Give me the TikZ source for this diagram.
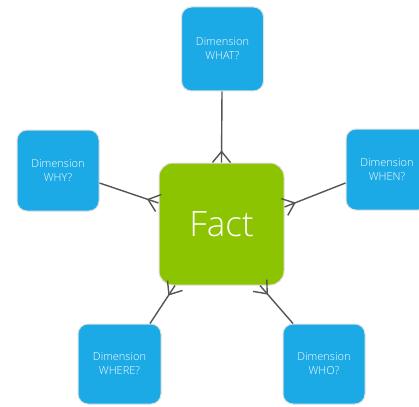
\documentclass[tikz,border=0pt]{standalone}
\usepackage{fontspec}
\setmainfont{Open Sans}
\newfontfamily\lightfont{Open Sans Light}
\usetikzlibrary{calc}
\definecolor{dimblue}{RGB}{28,170,230}
\definecolor{factgreen}{RGB}{140,196,2}
\definecolor{linkgray}{RGB}{85,85,85}
\tikzset{
  dimbox/.style={fill=dimblue, draw=black!12, line width=1pt, rounded corners=10pt,
    text=white, font=\lightfont\fontsize{11}{14}\selectfont, align=center, inner sep=0pt},
  factbox/.style={fill=factgreen, draw=black!12, line width=1pt, rounded corners=14pt,
    text=white, font=\lightfont\fontsize{35}{40}\selectfont, inner sep=0pt,
    minimum width=125pt, minimum height=122pt},
  link/.style={draw=linkgray, line width=1.4pt}
}
\newcommand{\crowlink}[2]{%
  \draw[link] (#1) -- (#2);
  \draw[link] ($(#2)!11pt!(#1)$) -- ($(#2)!9pt!90:(#1)$);
  \draw[link] ($(#2)!11pt!(#1)$) -- ($(#2)!9pt!-90:(#1)$);
}
\begin{document}
\begin{tikzpicture}[x=1pt,y=-1pt]
\useasboundingbox (0,0) rectangle (419,406);
\fill[white] (0,0) rectangle (419,406);
\node[factbox] (fact) at (221.5,224) {Fact};
\node[dimbox, minimum width=82pt, minimum height=84pt] (what) at (222.5,49) {Dimension\\WHAT?};
\node[dimbox, minimum width=82pt, minimum height=81pt] (why) at (58,170.5) {Dimension\\WHY?};
\node[dimbox, minimum width=82pt, minimum height=81pt] (when) at (387,169.5) {Dimension\\WHEN?};
\node[dimbox, minimum width=83pt, minimum height=80pt] (where) at (119.5,364) {Dimension\\WHERE?};
\node[dimbox, minimum width=82pt, minimum height=80pt] (who) at (324,364) {Dimension\\WHO?};
\coordinate (a1) at ($(what.south)+(-0.5,0)$);
\coordinate (b1) at (fact.north);
\coordinate (a2) at ($(why.east)+(0,12.5)$);
\coordinate (b2) at ($(fact.west)+(0,-21)$);
\coordinate (a3) at ($(when.west)+(0,13.5)$);
\coordinate (b3) at ($(fact.east)+(0,-17)$);
\coordinate (a4) at ($(where.north)+(30.5,0)$);
\coordinate (b4) at ($(fact.south)+(-46.5,0)$);
\coordinate (a5) at ($(who.north)+(-31,0)$);
\coordinate (b5) at ($(fact.south)+(38.5,0)$);
\crowlink{a1}{b1}
\crowlink{a2}{b2}
\crowlink{a3}{b3}
\crowlink{a4}{b4}
\crowlink{a5}{b5}
\end{tikzpicture}
\end{document}
